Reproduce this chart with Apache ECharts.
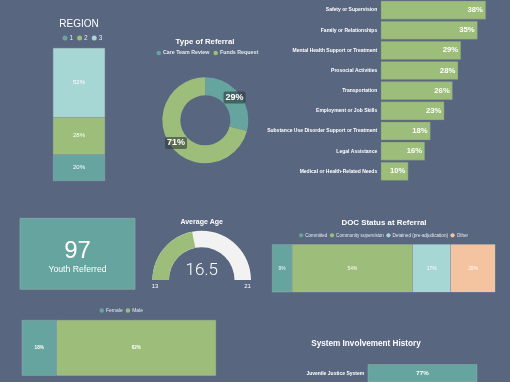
<!DOCTYPE html>
<html><head><meta charset="utf-8">
<script src="https://cdn.jsdelivr.net/npm/echarts@6/dist/echarts.min.js"></script>
<style>html,body{margin:0;padding:0;background:#586680;}#c{width:510px;height:382px;}</style>
</head><body><div id="c"></div>
<script>
const regionNames = ['1', '2', '3'];
const regionValues = [20, 28, 52];
const referralTypes = ['Care Team Review', 'Funds Request'];
const referralValues = [29, 71];
const needCategories = ['Safety or Supervision', 'Family or Relationships', 'Mental Health Support or Treatment', 'Prosocial Activities', 'Transportation', 'Employment or Job Skills', 'Substance Use Disorder Support or Treatment', 'Legal Assistance', 'Medical or Health-Related Needs'];
const needValues = [38, 35, 29, 28, 26, 23, 18, 16, 10];
const youthReferred = 97;
const youthLabel = 'Youth Referred';
const ageMin = 13, ageMax = 21, ageAvg = 16.5;
const genderNames = ['Female', 'Male'];
const genderValues = [18, 82];
const docNames = ['Committed', 'Community supervision', 'Detained (pre-adjudication)', 'Other'];
const docValues = [9, 54, 17, 20];
const systemCategories = ['Juvenile Justice System'];
const systemValues = [77];

const FONT = 'Liberation Sans';
const C_TEAL = '#66a4a0', C_GREEN = '#9dbd7b', C_LTEAL = '#a7d7d5', C_PEACH = '#f4c4a0';
const BORDER = 'rgba(190,195,195,0.55)';

const chart = echarts.init(document.getElementById('c'));

function hiddenAxis(type, grid, extra) {
  return Object.assign({type: type, gridIndex: grid, show: false}, extra || {});
}

const series = [];
const regionColors = [C_TEAL, C_GREEN, C_LTEAL];
regionNames.forEach((n, i) => series.push({
  type: 'bar', name: n, stack: 'region', xAxisIndex: 0, yAxisIndex: 0, barWidth: '100%',
  data: [regionValues[i]], itemStyle: {color: regionColors[i], borderColor: BORDER, borderWidth: 0.5},
  label: {show: true, position: 'inside', formatter: '{c}%', color: '#fff', fontSize: 6, fontFamily: FONT}
}));
series.push({
  type: 'bar', name: 'needs', xAxisIndex: 1, yAxisIndex: 1, barCategoryGap: '7%',
  data: needValues, itemStyle: {color: C_GREEN, borderColor: 'rgba(120,135,130,0.7)', borderWidth: 0.6},
  label: {show: true, position: 'insideRight', distance: 3, formatter: '{c}%', color: '#fff', fontSize: 7.7, fontWeight: 'bold', fontFamily: FONT}
});
const genderColors = [C_TEAL, C_GREEN];
genderNames.forEach((n, i) => series.push({
  type: 'bar', name: n, stack: 'gender', xAxisIndex: 2, yAxisIndex: 2, barWidth: '100%',
  data: [genderValues[i]], itemStyle: {color: genderColors[i], borderColor: BORDER, borderWidth: 0.5},
  label: {show: true, position: 'inside', formatter: '{c}%', color: '#fff', fontSize: 4.6, fontWeight: 'bold', fontFamily: FONT}
}));
const docColors = [C_TEAL, C_GREEN, C_LTEAL, C_PEACH];
docNames.forEach((n, i) => series.push({
  type: 'bar', name: n, stack: 'doc', xAxisIndex: 3, yAxisIndex: 3, barWidth: '100%',
  data: [docValues[i]], itemStyle: {color: docColors[i], borderColor: BORDER, borderWidth: 0.5},
  label: {show: true, position: 'inside', formatter: '{c}%', color: '#fff', fontSize: 4.8, fontFamily: FONT}
}));
series.push({
  type: 'bar', name: 'system', xAxisIndex: 4, yAxisIndex: 4, barWidth: 27,
  data: systemValues, itemStyle: {color: C_TEAL, borderColor: BORDER, borderWidth: 0.5},
  label: {show: true, position: 'inside', formatter: '{c}%', color: '#fff', fontSize: 6.2, fontWeight: 'bold', fontFamily: FONT}
});
series.push({
  type: 'pie', name: 'referral', center: [205.3, 120.3], radius: [25, 43], startAngle: 90, clockwise: true,
  avoidLabelOverlap: false,
  data: referralTypes.map((n, i) => ({name: n, value: referralValues[i], itemStyle: {color: [C_TEAL, C_GREEN][i]}})),
  label: {show: true, position: 'inside', formatter: '{c}%', color: '#fff', fontSize: 9, fontWeight: 'bold', fontFamily: FONT,
    backgroundColor: 'rgba(45,55,55,0.6)', padding: [2, 2, 1, 2], borderRadius: 2},
  labelLine: {show: false}
});
series.push({
  type: 'gauge', center: [201.7, 280], radius: 49.3, startAngle: 180, endAngle: 0, min: ageMin, max: ageMax,
  axisLine: {lineStyle: {width: 16.5, color: [[1, '#f2f2f2']]}},
  progress: {show: true, width: 16.5, itemStyle: {color: C_GREEN}},
  pointer: {show: false}, axisTick: {show: false}, splitLine: {show: false}, axisLabel: {show: false}, anchor: {show: false},
  title: {offsetCenter: [0, -58], color: '#fff', fontSize: 7, fontWeight: 'bold', fontFamily: FONT},
  detail: {offsetCenter: [0, -9], formatter: '{value}', color: '#fff', fontSize: 17, fontWeight: 300, fontFamily: 'Roboto'},
  data: [{value: ageAvg, name: 'Average Age'}]
});

function legendCfg(names, left, top, fs, bold, gap) {
  return {data: names, left: left, top: top, padding: 0, itemGap: gap, itemWidth: 4.5, itemHeight: 4.5, icon: 'circle',
    itemStyle: {borderWidth: 0},
    textStyle: {color: '#e6e9ee', fontSize: fs, fontWeight: bold ? 'bold' : 'normal', fontFamily: FONT, padding: [0, 0, 0, -3]}};
}

const option = {
  backgroundColor: '#586680',
  animation: false,
  grid: [
    {left: 53, top: 48, width: 52, height: 133},
    {left: 380.7, top: -8.65, width: 110.8, height: 190},
    {left: 21.7, top: 320, width: 194.3, height: 55.7},
    {left: 272, top: 244.3, width: 223.3, height: 48},
    {left: 367.7, top: 364.5, width: 149, height: 29}
  ],
  xAxis: [
    hiddenAxis('category', 0, {data: ['Region']}),
    hiddenAxis('value', 1, {min: 0, max: 40}),
    hiddenAxis('value', 2, {min: 0, max: 100}),
    hiddenAxis('value', 3, {min: 0, max: 100}),
    hiddenAxis('value', 4, {min: 0, max: 100})
  ],
  yAxis: [
    hiddenAxis('value', 0, {min: 0, max: 100}),
    {type: 'category', gridIndex: 1, inverse: true, data: needCategories,
      axisLine: {show: false}, axisTick: {show: false}, splitLine: {show: false},
      axisLabel: {margin: 3.5, color: '#fff', fontSize: 5, fontWeight: 'bold', fontFamily: FONT}},
    hiddenAxis('category', 2, {data: ['Gender']}),
    hiddenAxis('category', 3, {data: ['DOC']}),
    {type: 'category', gridIndex: 4, data: systemCategories,
      axisLine: {show: false}, axisTick: {show: false}, splitLine: {show: false},
      axisLabel: {margin: 3.5, color: '#fff', fontSize: 5, fontWeight: 'bold', fontFamily: FONT}}
  ],
  legend: [
    Object.assign(legendCfg(regionNames, 62.5, 34.5, 6.5, false, 4), {itemWidth: 5, itemHeight: 5}),
    legendCfg(referralTypes, 156.5, 50.5, 5.3, true, 4),
    legendCfg(genderNames, 99.5, 308, 5, false, 3),
    Object.assign(legendCfg(docNames, 299, 232.8, 4.6, false, 2.5), {itemWidth: 4.2, itemHeight: 4.2})
  ],
  graphic: [
    {type: 'text', x: 79, y: 24, style: {text: 'REGION', align: 'center', verticalAlign: 'middle', fill: '#fff', font: '10px "Liberation Sans"'}},
    {type: 'text', x: 205, y: 41.5, style: {text: 'Type of Referral', align: 'center', verticalAlign: 'middle', fill: '#fff', font: 'bold 7.8px "Liberation Sans"'}},
    {type: 'text', x: 384, y: 223, style: {text: 'DOC Status at Referral', align: 'center', verticalAlign: 'middle', fill: '#fff', font: 'bold 7.9px "Liberation Sans"'}},
    {type: 'text', x: 366, y: 343.7, style: {text: 'System Involvement History', align: 'center', verticalAlign: 'middle', fill: '#fff', font: 'bold 8.2px "Liberation Sans"'}},
    {type: 'rect', shape: {x: 20, y: 218.3, width: 115, height: 71}, style: {fill: C_TEAL, stroke: 'rgba(150,175,170,0.8)', lineWidth: 0.8}},
    {type: 'text', x: 77.5, y: 251, style: {text: String(youthReferred), align: 'center', verticalAlign: 'middle', fill: '#fff', font: '24px "Liberation Sans"'}},
    {type: 'text', x: 77.5, y: 269.5, style: {text: youthLabel, align: 'center', verticalAlign: 'middle', fill: '#fff', font: '8.7px "Liberation Sans"'}},
    {type: 'text', x: 155, y: 286, style: {text: String(ageMin), align: 'center', verticalAlign: 'middle', fill: '#fff', font: '6px "Liberation Sans"'}},
    {type: 'text', x: 247.5, y: 286, style: {text: String(ageMax), align: 'center', verticalAlign: 'middle', fill: '#fff', font: '6px "Liberation Sans"'}}
  ],
  series: series
};
chart.setOption(option);
</script>
</body></html>
